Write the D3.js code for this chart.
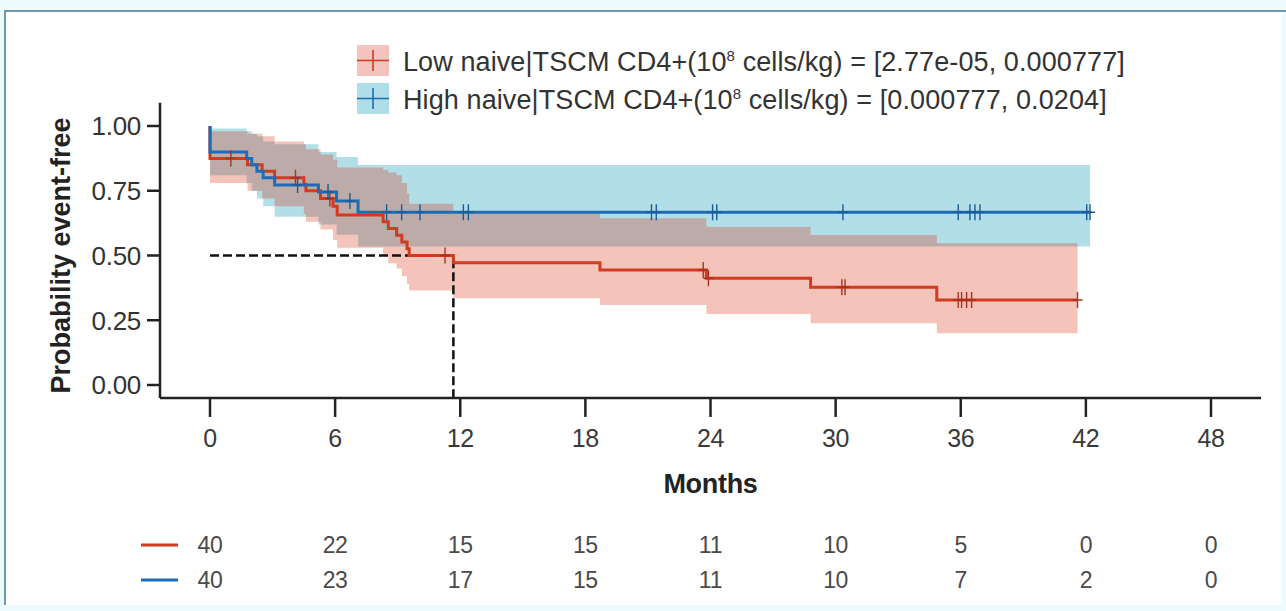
<!DOCTYPE html>
<html>
<head>
<meta charset="utf-8">
<script src="https://cdn.jsdelivr.net/npm/d3@7"></script>
<style>
  html, body { margin: 0; padding: 0; background: #eefbfd; }
  svg { display: block; font-family: "Liberation Sans", Arial, sans-serif; }
</style>
</head>
<body>
<div id="chart"></div>
<script>
// ---- data ----
const months = [0, 6, 12, 18, 24, 30, 36, 42, 48];
const yTicks = [0, 0.25, 0.5, 0.75, 1];
const riskLow = [40, 22, 15, 15, 11, 10, 5, 0, 0];
const riskHigh = [40, 23, 17, 15, 11, 10, 7, 2, 0];

// Low naive|TSCM group
const lowTime  = [0, 1.8, 2.5, 3.1, 4.5, 4.6, 5.3, 5.9, 6.1, 8.3, 8.55, 8.95, 9.2, 9.45, 9.55, 11.67, 18.7, 23.8, 28.8, 34.85];
const lowSurv  = [0.875, 0.85, 0.825, 0.80, 0.775, 0.75, 0.72, 0.69, 0.656, 0.63, 0.604, 0.578, 0.552, 0.526, 0.50, 0.472, 0.444, 0.412, 0.377, 0.328];
const lowUpper = [0.98, 0.97, 0.96, 0.94, 0.93, 0.91, 0.89, 0.87, 0.84, 0.83, 0.82, 0.81, 0.78, 0.74, 0.70, 0.663, 0.644, 0.611, 0.579, 0.547];
const lowLower = [0.78, 0.75, 0.72, 0.69, 0.66, 0.63, 0.60, 0.56, 0.53, 0.50, 0.47, 0.45, 0.42, 0.39, 0.365, 0.335, 0.309, 0.274, 0.238, 0.20];
const lowEnd = 41.6;
const lowCensor = [1.0, 4.1, 5.75, 11.27, 23.65, 23.9, 30.3, 30.45, 35.88, 36.04, 36.28, 36.52, 41.6];

// High naive|TSCM group
const highTime  = [0, 1.76, 2.0, 2.25, 2.55, 3.1, 5.2, 6.07, 7.1];
const highSurv  = [0.90, 0.875, 0.85, 0.825, 0.80, 0.772, 0.745, 0.71, 0.667];
const highUpper = [0.99, 0.98, 0.97, 0.96, 0.94, 0.93, 0.90, 0.88, 0.849];
const highLower = [0.81, 0.78, 0.75, 0.72, 0.69, 0.65, 0.62, 0.58, 0.535];
const highEnd = 42.2;
const highCensor = [4.2, 5.66, 6.71, 8.47, 9.19, 10.07, 12.15, 12.39, 21.17, 21.4, 24.1, 24.3, 30.35, 35.88, 36.44, 36.68, 36.92, 42.04, 42.2];

const medianTime = 11.67;

const RED = '#d03b22', BLUE = '#1c6db5';
const W = 1286, H = 611;

const svg = d3.select('#chart').append('svg').attr('width', W).attr('height', H);

// panel frame
svg.append('rect').attr('x', 5).attr('y', 11).attr('width', 1277).attr('height', 594).attr('fill', '#fff');
svg.append('path').attr('d', 'M5,605 V11 H1286').attr('fill', 'none').attr('stroke', '#6f98ab').attr('stroke-width', 2);

const x = d3.scaleLinear().domain([0, 48]).range([210, 1211]);
const y = d3.scaleLinear().domain([0, 1]).range([385, 126]);

const g = svg.append('g');

function series(time, surv, upper, lower, end) {
  const pts = time.map((t, i) => ({ t, s: surv[i], hi: upper[i], lo: lower[i] }));
  const last = pts[pts.length - 1];
  pts.push({ t: end, s: last.s, hi: last.hi, lo: last.lo });
  return pts;
}
const low = series(lowTime, lowSurv, lowUpper, lowLower, lowEnd);
const high = series(highTime, highSurv, highUpper, highLower, highEnd);

const area = d3.area().curve(d3.curveStepAfter)
  .x(d => x(d.t)).y0(d => y(d.lo)).y1(d => y(d.hi));
const line = d3.line().curve(d3.curveStepAfter)
  .x(d => x(d.t)).y(d => y(d.s));

// confidence bands
g.append('path').attr('d', area(high)).attr('fill', 'rgb(0,150,175)').attr('fill-opacity', 0.3);
g.append('path').attr('d', area(low)).attr('fill', 'rgb(215,35,0)').attr('fill-opacity', 0.27);

// median guide
g.append('path')
  .attr('d', d3.line()([[x(0), y(0.5)], [x(medianTime), y(0.5)], [x(medianTime), y(-0.05)]]))
  .attr('fill', 'none').attr('stroke', '#111').attr('stroke-width', 2.5).attr('stroke-dasharray', '9 4');

// survival curves
g.append('path').attr('d', line([{ t: 0, s: 1 }, ...low])).attr('fill', 'none')
  .attr('stroke', RED).attr('stroke-width', 3);
g.append('path').attr('d', line([{ t: 0, s: 1 }, ...high])).attr('fill', 'none')
  .attr('stroke', BLUE).attr('stroke-width', 3);

// censor marks
function survAt(time, surv, t) {
  const i = d3.bisectRight(time, t) - 1;
  return surv[Math.max(0, i)];
}
function censor(times, time, surv, color) {
  g.append('g').selectAll('path').data(times).join('path')
    .attr('d', t => {
      const cx = x(t), cy = y(survAt(time, surv, t));
      return `M${cx - 5},${cy}H${cx + 5}M${cx},${cy - 8}V${cy + 8}`;
    })
    .attr('fill', 'none').attr('stroke', color).attr('stroke-width', 1.4);
}
censor(lowCensor, lowTime, lowSurv, '#a8321f');
censor(highCensor, highTime, highSurv, '#1a5c98');

// axes
const axisG = svg.append('g').attr('stroke', '#222').attr('stroke-width', 2.5);
axisG.append('line').attr('x1', 160).attr('x2', 160).attr('y1', y(1.09)).attr('y2', y(-0.05));
axisG.append('line').attr('x1', 160).attr('x2', x(50.4)).attr('y1', y(-0.05)).attr('y2', y(-0.05));
axisG.selectAll('.yt').data(yTicks).join('line').attr('class', 'yt')
  .attr('x1', 147).attr('x2', 160).attr('y1', d => y(d)).attr('y2', d => y(d));
axisG.selectAll('.xt').data(months).join('line').attr('class', 'xt')
  .attr('x1', d => x(d)).attr('x2', d => x(d)).attr('y1', y(-0.05)).attr('y2', y(-0.05) + 19);

svg.append('g').selectAll('text').data(yTicks).join('text')
  .attr('x', 141).attr('y', d => y(d)).attr('dy', '0.36em').attr('text-anchor', 'end')
  .attr('font-size', 26).attr('fill', '#333').attr('letter-spacing', -0.3)
  .text(d => d3.format('.2f')(d));

svg.append('g').selectAll('text').data(months).join('text')
  .attr('x', d => x(d)).attr('y', 447).attr('text-anchor', 'middle')
  .attr('font-size', 25).attr('fill', '#3a3a3a').attr('letter-spacing', -0.3)
  .text(d => d);

svg.append('text').attr('x', x(24)).attr('y', 493).attr('text-anchor', 'middle')
  .attr('font-size', 27).attr('font-weight', 'bold').attr('fill', '#222').attr('letter-spacing', -0.3)
  .text('Months');

svg.append('text').attr('transform', `translate(70,${y(0.5)}) rotate(-90)`).attr('text-anchor', 'middle')
  .attr('font-size', 27).attr('font-weight', 'bold').attr('fill', '#222').attr('letter-spacing', 0)
  .text('Probability event-free');

// risk table
[[riskLow, RED, 545], [riskHigh, BLUE, 580]].forEach(([vals, color, yy]) => {
  svg.append('line').attr('x1', 141).attr('x2', 178).attr('y1', yy).attr('y2', yy)
    .attr('stroke', color).attr('stroke-width', 3);
  svg.append('g').selectAll('text').data(vals).join('text')
    .attr('x', (d, i) => x(months[i])).attr('y', yy).attr('dy', '0.36em').attr('text-anchor', 'middle')
    .attr('font-size', 23).attr('fill', '#4a4a4a').attr('letter-spacing', -0.3)
    .text(d => d);
});

// legend
const legend = [
  { name: 'Low', range: '[2.77e-05, 0.000777]', fill: '#f4c3bd', color: RED, y: 45 },
  { name: 'High', range: '[0.000777, 0.0204]', fill: '#b0dee8', color: BLUE, y: 83 }
];
legend.forEach(l => {
  const lg = svg.append('g');
  lg.append('rect').attr('x', 357).attr('y', l.y).attr('width', 32).attr('height', 31).attr('fill', l.fill);
  lg.append('path').attr('d', `M357,${l.y + 15.5}H389M373,${l.y + 5}V${l.y + 26}`)
    .attr('stroke', l.color).attr('stroke-width', 1.6);
  const t = lg.append('text').attr('x', 403).attr('y', l.y + 26)
    .attr('font-size', 27).attr('fill', '#333').attr('letter-spacing', 0.1);
  t.append('tspan').text(`${l.name} naive|TSCM CD4+(10`);
  t.append('tspan').attr('dy', -10).attr('font-size', 15).text('8');
  t.append('tspan').attr('dy', 10).text(` cells/kg) = ${l.range}`);
});
</script>
</body>
</html>
